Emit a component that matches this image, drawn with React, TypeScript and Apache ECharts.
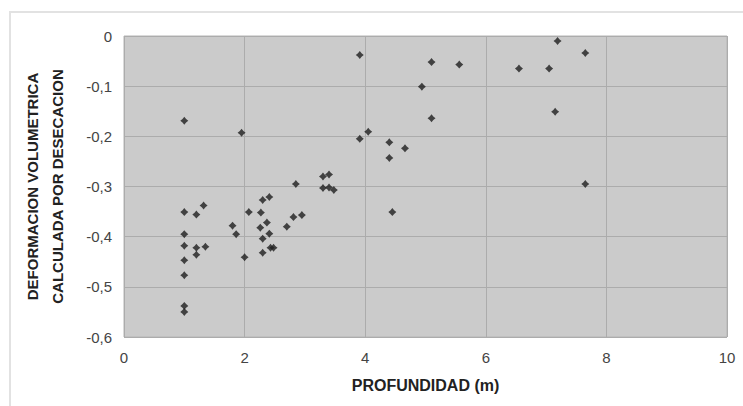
import React, { useEffect, useRef } from "react";
import * as echarts from "echarts";

const depthM = [
  1.0, 1.95, 1.0, 1.2, 1.32, 1.0, 1.0, 1.2, 1.35, 1.2, 1.0, 1.0, 1.0, 1.0,
  1.8, 1.86, 2.0, 2.07, 2.27, 2.3, 2.41, 2.37, 2.26, 2.41, 2.3, 2.3, 2.43, 2.48,
  2.7, 2.81, 2.95, 2.85, 3.3, 3.4, 3.3, 3.4, 3.48,
  3.91, 5.1, 5.56, 4.94, 5.1, 4.05, 3.91, 4.4, 4.66, 4.4, 4.45,
  7.19, 7.65, 6.55, 7.05, 7.15, 7.65,
];
const deformation = [
  -0.169, -0.193, -0.351, -0.356, -0.338, -0.395, -0.418, -0.422, -0.42, -0.436, -0.447, -0.477, -0.538, -0.55,
  -0.378, -0.395, -0.441, -0.351, -0.352, -0.327, -0.321, -0.372, -0.382, -0.394, -0.404, -0.432, -0.422, -0.422,
  -0.38, -0.361, -0.357, -0.295, -0.28, -0.276, -0.303, -0.302, -0.307,
  -0.038, -0.052, -0.057, -0.101, -0.164, -0.191, -0.205, -0.212, -0.224, -0.243, -0.351,
  -0.01, -0.034, -0.065, -0.065, -0.151, -0.295,
];
const xTicks = [0, 2, 4, 6, 8, 10];
const yTicks = [0, -0.1, -0.2, -0.3, -0.4, -0.5, -0.6];
const xTitle = "PROFUNDIDAD (m)";
const yTitleLines = ["DEFORMACION VOLUMETRICA", "CALCULADA POR DESECACION"];

export default function App() {
  const ref = useRef<HTMLDivElement>(null);
  useEffect(() => {
    document.body.style.margin = "0";
    const chart = echarts.init(ref.current!, null, { renderer: "svg" });
    const points = depthM.map((x, i) => [x, deformation[i]]);
    const fmtY = (v: number) => (Math.abs(v) < 1e-9 ? "0" : v.toFixed(1).replace(".", ","));
    chart.setOption({
      animation: false,
      backgroundColor: "#ffffff",
      graphic: [
        {
          type: "rect",
          shape: { x: 10, y: 12, width: 760, height: 420 },
          style: { fill: "none", stroke: "#e2e2e2", lineWidth: 2 },
          silent: true,
        },
      ],
      grid: {
        left: 124,
        top: 36,
        right: 16,
        bottom: 69,
        show: true,
        backgroundColor: "#cbcbcb",
        borderColor: "#b4b4b4",
        borderWidth: 1,
      },
      xAxis: {
        type: "value",
        min: xTicks[0],
        max: xTicks[xTicks.length - 1],
        interval: 2,
        name: xTitle,
        nameLocation: "middle",
        nameGap: 40,
        nameTextStyle: { fontFamily: "Liberation Sans", fontWeight: "bold", fontSize: 16, color: "#222" },
        axisLine: { show: false },
        axisTick: { show: false },
        axisLabel: { fontFamily: "Liberation Sans", fontSize: 15, color: "#444", margin: 13 },
        splitLine: { show: true, lineStyle: { color: "#acacac", width: 1 } },
      },
      yAxis: {
        type: "value",
        min: yTicks[yTicks.length - 1],
        max: yTicks[0],
        interval: 0.1,
        name: yTitleLines.join("\n"),
        nameLocation: "middle",
        nameRotate: 90,
        nameGap: 54,
        nameTextStyle: {
          fontFamily: "Liberation Sans",
          fontWeight: "bold",
          fontSize: 15,
          lineHeight: 25,
          color: "#222",
        },
        axisLine: { show: false },
        axisTick: { show: false },
        axisLabel: { fontFamily: "Liberation Sans", fontSize: 15, color: "#444", margin: 12, formatter: fmtY },
        splitLine: { show: true, lineStyle: { color: "#acacac", width: 1 } },
      },
      series: [
        {
          type: "scatter",
          data: points,
          symbol: "path://M0,-1 L0.45,-0.45 L1,0 L0.45,0.45 L0,1 L-0.45,0.45 L-1,0 L-0.45,-0.45 Z",
          symbolSize: 8,
          itemStyle: { color: "#1e1e1e" },
        },
      ],
    });
    return () => chart.dispose();
  }, []);
  return <div ref={ref} style={{ width: 743, height: 406 }} />;
}
